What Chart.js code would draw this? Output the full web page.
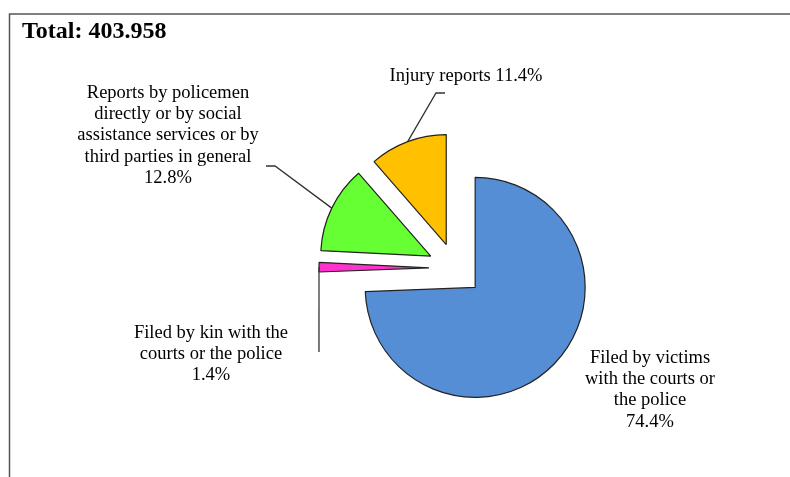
<!DOCTYPE html>
<html>
<head>
<meta charset="utf-8">
<script src="https://cdn.jsdelivr.net/npm/chart.js@4/dist/chart.umd.min.js"></script>
<style>
  html, body { margin: 0; padding: 0; background: #fff; }
  canvas { display: block; }
</style>
</head>
<body>
<canvas id="pieChart" width="790" height="477"></canvas>
<script>
// data
const totalLabel = "Total: 403.958";
const categories = [
  "Filed by victims with the courts or the police",
  "Filed by kin with the courts or the police",
  "Reports by policemen directly or by social assistance services or by third parties in general",
  "Injury reports"
];
const shares = [74.4, 1.4, 12.8, 11.4];
const sliceColors = ["#558ed5", "#ff33cc", "#66ff33", "#ffc000"];

// label lines as they are wrapped in the picture
const labelLines = [
  ["Filed by victims", "with the courts or", "the police", "74.4%"],
  ["Filed by kin with the", "courts or the police", "1.4%"],
  ["Reports by policemen", "directly or by social", "assistance services or by", "third parties in general", "12.8%"],
  ["Injury reports 11.4%"]
];

const serif = '"Liberation Serif", "Times New Roman", serif';

// how far each slice is pulled out of the pie (px)
const explode = [28, 26, 27, 25];

// where each label sits and how its leader line bends
const labelPlace = [
  { x: 650, y: 358, line: null },
  { x: 211, y: 333, line: [[319, 352]] },
  { x: 168, y: 93, line: [[275, 166], [266, 166]] },
  { x: 466, y: 76, line: [[436, 93], [445, 93]] }
];

// pulls the slices out before drawing, puts them back afterwards
const explodePlugin = {
  id: "explode",
  beforeDatasetsDraw(chart) {
    chart.getDatasetMeta(0).data.forEach((arc, i) => {
      const mid = (arc.startAngle + arc.endAngle) / 2;
      arc._home = { x: arc.x, y: arc.y };
      arc.x += Math.cos(mid) * explode[i];
      arc.y += Math.sin(mid) * explode[i];
    });
  },
  afterDatasetsDraw(chart) {
    const c = chart.ctx;
    const meta = chart.getDatasetMeta(0);

    c.save();
    // frame
    c.strokeStyle = "#555";
    c.lineWidth = 1.5;
    c.beginPath();
    c.moveTo(790, 14);
    c.lineTo(9.5, 14);
    c.lineTo(9.5, 477);
    c.stroke();

    // title
    c.fillStyle = "#000";
    c.font = "bold 24px " + serif;
    c.textAlign = "left";
    c.textBaseline = "alphabetic";
    c.fillText(totalLabel, 22, 38);

    // leader lines
    c.strokeStyle = "#333";
    c.lineWidth = 1.3;
    meta.data.forEach((arc, i) => {
      const p = labelPlace[i];
      if (!p.line) return;
      const mid = (arc.startAngle + arc.endAngle) / 2;
      c.beginPath();
      c.moveTo(arc.x + Math.cos(mid) * arc.outerRadius, arc.y + Math.sin(mid) * arc.outerRadius);
      p.line.forEach(pt => c.lineTo(pt[0], pt[1]));
      c.stroke();
    });

    // labels
    c.font = "18.5px " + serif;
    c.textAlign = "center";
    c.textBaseline = "middle";
    labelLines.forEach((lines, i) => {
      const p = labelPlace[i];
      lines.forEach((t, k) => c.fillText(t, p.x, p.y + k * 21.3));
    });
    c.restore();

    meta.data.forEach(arc => {
      if (arc._home) { arc.x = arc._home.x; arc.y = arc._home.y; }
    });
  }
};

new Chart(document.getElementById("pieChart"), {
  type: "pie",
  data: {
    labels: categories,
    datasets: [{
      data: shares,
      backgroundColor: sliceColors,
      borderColor: "#222",
      borderWidth: 1.2
    }]
  },
  options: {
    responsive: false,
    animation: false,
    radius: 110,
    layout: { padding: { left: 120, right: 0, top: 59, bottom: 0 } },
    plugins: {
      legend: { display: false },
      tooltip: { enabled: false }
    }
  },
  plugins: [explodePlugin]
});
</script>
</body>
</html>
